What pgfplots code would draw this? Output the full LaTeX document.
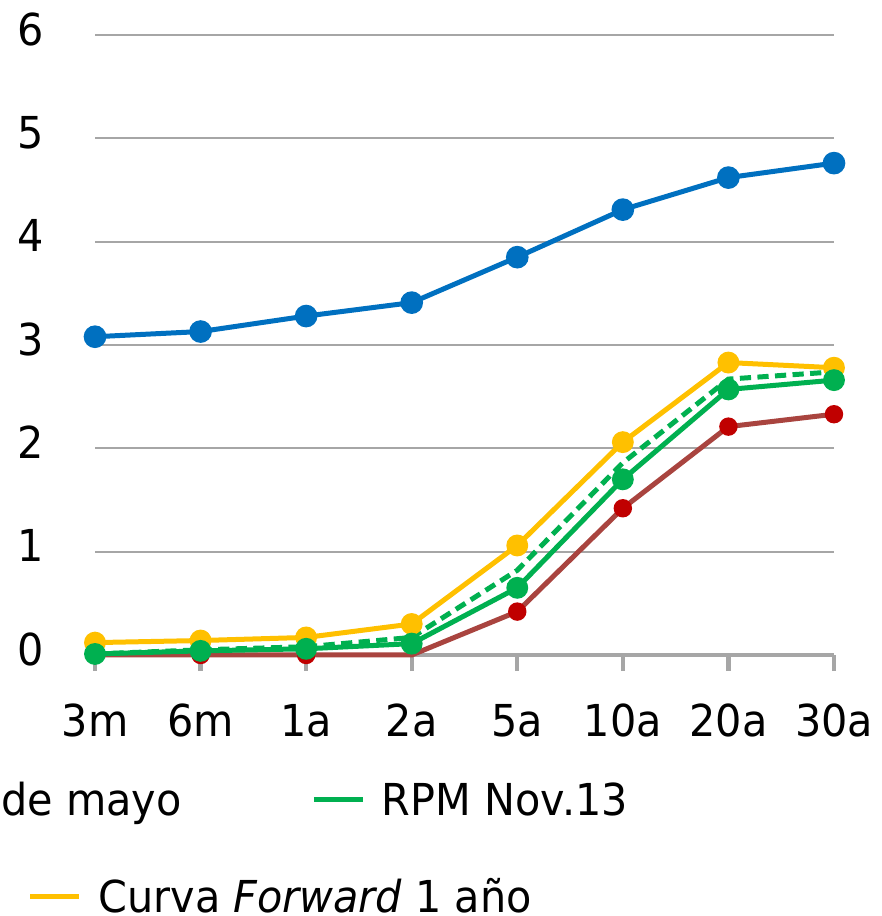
\documentclass[border=0pt]{standalone}
\usepackage{fontspec}
\setmainfont{DejaVu Sans}[FakeStretch=0.94]
\usepackage{pgfplots}
\pgfplotsset{compat=1.18}
\definecolor{cBlue}{HTML}{0070C0}
\definecolor{cYellow}{HTML}{FFC000}
\definecolor{cGreen}{HTML}{00B050}
\definecolor{cRedLine}{HTML}{A9443F}
\definecolor{cRedMark}{HTML}{C00000}
\definecolor{cGrid}{HTML}{A6A6A6}
\pgfplotsset{
  lgline/.style={legend image code/.code={\draw[##1] (0pt,0pt) -- (12.25pt,0pt); \path[draw=none] (0pt,0pt) -- (17pt,0pt);}},
  lgempty/.style={legend image code/.code={\path[draw=none] (0pt,0pt) -- (17pt,0pt);}},
}
\begin{document}
\fontsize{11}{13}\selectfont
\begin{tikzpicture}
\path[use as bounding box] (-23.75pt,-65.25pt) rectangle (196.5pt,163.75pt);
\begin{axis}[
  at={(0pt,0pt)}, anchor=south west,
  scale only axis, width=184.75pt, height=155pt,
  xmin=0, xmax=7, ymin=0, ymax=6,
  xtick={0,...,7}, xticklabels={3m,6m,1a,2a,5a,10a,20a,30a},
  ytick={0,...,6},
  axis x line=bottom, axis y line=left,
  x axis line style={draw=cGrid, line width=1.1pt, -},
  y axis line style={draw=none},
  ytick style={draw=none},
  xtick style={draw=cGrid, line width=1.1pt},
  tick align=outside, major tick length=4pt,
  ymajorgrids, grid style={draw=cGrid, line width=0.5pt},
  tick label style={font=\fontsize{11}{13}\selectfont},
  /pgf/number format/assume math mode=true,
  yticklabel style={anchor=east, inner sep=0pt, xshift=-8.5pt, yshift=1.5pt},
  xticklabel style={anchor=north, inner sep=0pt, text height=8pt, yshift=-8.25pt},
  legend columns=2,
  legend cell align=left,
  legend style={at={(-0.0907,-0.2065)}, anchor=north west, draw=none, fill=none,
    inner sep=0pt, outer sep=0pt, column sep=0pt, row sep=16.25pt,
    nodes={inner sep=0pt, text height=8pt, text depth=0pt, font=\fontsize{11}{13}\selectfont}},
  clip=false,
]
% red (line + markers)
\addplot[cRedLine, line width=1.25pt, forget plot] coordinates {
  (0,0) (1,0) (2,0) (3,0) (4,0.42) (5,1.42) (6,2.21) (7,2.33)};
\addplot[only marks, mark=*, mark size=2.1pt, mark options={fill=cRedMark, draw=cRedMark}, forget plot] coordinates {
  (0,0) (1,0) (2,0) (4,0.42) (5,1.42) (6,2.21) (7,2.33)};
% yellow: Curva Forward 1 año
\addplot[cYellow, line width=1.25pt, mark=*, mark size=2.1pt, mark options={fill=cYellow, draw=cYellow, solid}, forget plot] coordinates {
  (0,0.12) (1,0.14) (2,0.17) (3,0.30) (4,1.06) (5,2.06) (6,2.83) (7,2.78)};
% green dashed
\addplot[cGreen, line width=1.25pt, dash pattern=on 2.8pt off 1.6pt, forget plot] coordinates {
  (0,0.01) (1,0.05) (2,0.08) (3,0.17) (4,0.82) (5,1.86) (6,2.67) (7,2.74)};
% green solid: RPM Nov.13
\addplot[cGreen, line width=1.25pt, mark=*, mark size=2.1pt, mark options={fill=cGreen, draw=cGreen}, forget plot] coordinates {
  (0,0.01) (1,0.04) (2,0.06) (3,0.11) (4,0.65) (5,1.70) (6,2.57) (7,2.66)};
% blue
\addplot[cBlue, line width=1.25pt, mark=*, mark size=2.2pt, mark options={fill=cBlue, draw=cBlue}, forget plot] coordinates {
  (0,3.08) (1,3.13) (2,3.28) (3,3.41) (4,3.85) (5,4.31) (6,4.62) (7,4.76)};
% legend
\addlegendimage{lgempty}
\addlegendentry{\makebox[53.25pt][l]{\hspace*{-24.25pt}de mayo}}
\addlegendimage{lgline, cGreen, line width=1.25pt}
\addlegendentry{RPM Nov.13}
\addlegendimage{lgline, cYellow, line width=1.25pt}
\addlegendentry{\makebox[53.25pt][l]{Curva \textit{Forward} 1 año}}
\end{axis}
\end{tikzpicture}
\end{document}
